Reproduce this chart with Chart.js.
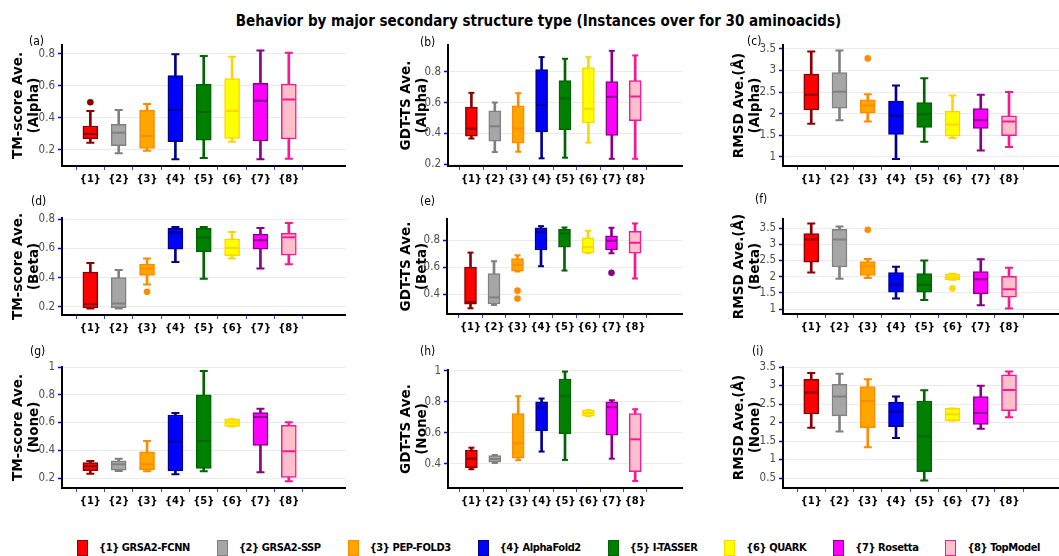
<!DOCTYPE html>
<html><head><meta charset="utf-8">
<script src="https://cdn.jsdelivr.net/npm/chart.js@4.4.0/dist/chart.umd.min.js"></script>
<style>
html,body{margin:0;padding:0;background:#fff;}
body{position:relative;width:1059px;height:556px;overflow:hidden;font-family:"DejaVu Sans",sans-serif;}
.panel{position:absolute;}
.lab{position:absolute;font:12px "DejaVu Sans Condensed","DejaVu Sans",sans-serif;color:#000;}
#title{position:absolute;left:0;width:1077px;top:12px;text-align:center;font:bold 15px "DejaVu Sans Condensed","DejaVu Sans",sans-serif;color:#000;}
#legend{position:absolute;left:77px;top:540px;display:flex;align-items:center;white-space:nowrap;}
.item{display:flex;align-items:center;margin-right:27px;}
.sq{width:9px;height:14px;border:1.5px solid #000;margin-right:11px;}
.lt{font:bold 11px "DejaVu Sans Condensed","DejaVu Sans",sans-serif;letter-spacing:-0.4px;color:#000;line-height:16px;}
</style></head><body>
<div id="title">Behavior by major secondary structure type (Instances over for 30 aminoacids)</div>
<div id="root"></div>
<div id="legend"></div>
<script>
// ---------- data ----------
const categories = ['{1}','{2}','{3}','{4}','{5}','{6}','{7}','{8}'];
const methods = ['GRSA2-FCNN','GRSA2-SSP','PEP-FOLD3','AlphaFold2','I-TASSER','QUARK','Rosetta','TopModel'];
// each row: [lower whisker, Q1, median, Q3, upper whisker]
const tmAlpha   = [[0.246,0.269,0.300,0.350,0.444],[0.179,0.227,0.308,0.360,0.450],[0.196,0.210,0.288,0.448,0.488],[0.142,0.252,0.450,0.665,0.798],[0.150,0.262,0.438,0.610,0.788],[0.252,0.273,0.444,0.646,0.783],[0.142,0.256,0.508,0.617,0.821],[0.146,0.269,0.515,0.612,0.808]];
const gdtAlpha  = [[0.366,0.381,0.431,0.571,0.664],[0.278,0.349,0.446,0.547,0.601],[0.280,0.336,0.431,0.580,0.662],[0.237,0.409,0.584,0.815,0.897],[0.241,0.424,0.627,0.744,0.886],[0.340,0.468,0.560,0.828,0.897],[0.234,0.386,0.638,0.737,0.938],[0.234,0.483,0.640,0.744,0.908]];
const rmsdAlpha = [[1.77,2.09,2.44,2.915,3.44],[1.85,2.13,2.51,2.95,3.46],[1.82,2.01,2.19,2.32,2.45],[0.95,1.52,1.95,2.29,2.65],[1.35,1.68,1.99,2.26,2.82],[1.44,1.48,1.75,2.06,2.42],[1.15,1.66,1.85,2.12,2.44],[1.23,1.49,1.82,1.95,2.50]];
const tmBeta    = [[0.189,0.193,0.218,0.438,0.500],[0.189,0.195,0.223,0.400,0.452],[0.353,0.415,0.461,0.493,0.530],[0.507,0.594,0.708,0.736,0.745],[0.392,0.576,0.674,0.736,0.745],[0.530,0.550,0.603,0.665,0.711],[0.463,0.594,0.656,0.697,0.738],[0.491,0.553,0.676,0.702,0.773]];
const gdtBeta   = [[0.294,0.324,0.341,0.599,0.707],[0.319,0.326,0.375,0.552,0.643],[0.567,0.569,0.616,0.663,0.687],[0.606,0.726,0.859,0.891,0.903],[0.574,0.748,0.849,0.879,0.893],[0.704,0.704,0.748,0.817,0.869],[0.702,0.726,0.795,0.832,0.891],[0.515,0.702,0.780,0.864,0.923]];
const rmsdBeta  = [[2.13,2.45,3.15,3.33,3.64],[1.94,2.30,3.15,3.46,3.55],[1.96,2.04,2.32,2.47,2.55],[1.33,1.52,1.75,2.13,2.31],[1.28,1.52,1.75,2.10,2.50],[1.91,1.91,1.98,2.07,2.09],[1.12,1.47,1.92,2.16,2.54],[1.02,1.37,1.61,2.01,2.28]];
const tmNone    = [[0.231,0.253,0.285,0.311,0.323],[0.251,0.256,0.299,0.323,0.338],[0.248,0.260,0.300,0.389,0.466],[0.227,0.251,0.461,0.654,0.669],[0.248,0.270,0.466,0.800,0.971],[0.572,0.572,0.600,0.623,0.623],[0.241,0.434,0.640,0.671,0.700],[0.176,0.205,0.393,0.579,0.601]];
const gdtNone   = [[0.366,0.376,0.434,0.490,0.505],[0.406,0.411,0.432,0.454,0.458],[0.424,0.437,0.533,0.725,0.837],[0.480,0.613,0.766,0.800,0.822],[0.426,0.596,0.837,0.948,0.996],[0.708,0.708,0.728,0.748,0.748],[0.434,0.585,0.766,0.800,0.811],[0.290,0.351,0.559,0.725,0.753]];
const rmsdNone  = [[1.86,2.23,2.81,3.17,3.34],[1.76,2.18,2.70,3.03,3.32],[1.33,1.86,2.58,2.97,3.17],[1.58,1.89,2.30,2.55,2.70],[0.43,0.67,1.63,2.58,2.87],[2.05,2.05,2.22,2.38,2.38],[1.83,1.95,2.26,2.70,2.99],[2.14,2.32,2.88,3.29,3.38]];
// outliers: [category number, value]
const tmAlphaOut   = [[1,0.498]];
const gdtAlphaOut  = [];
const rmsdAlphaOut = [[3,3.28]];
const tmBetaOut    = [[3,0.303]];
const gdtBetaOut   = [[3,0.425],[3,0.366],[7,0.557]];
const rmsdBetaOut  = [[3,3.45],[6,1.64]];
const tmNoneOut = [], gdtNoneOut = [], rmsdNoneOut = [];
// tick labels
const tmTicks   = [0.2,0.4,0.6,0.8];
const gdtAlphaTicks = [0.2,0.4,0.6,0.8];
const gdtBetaTicks  = [0.4,0.6,0.8];
const rmsdTicks = [1,1.5,2,2.5,3,3.5];
const noneTicks = [0.2,0.4,0.6,0.8,1];
const gdtNoneTicks = [0.4,0.6,0.8,1];
const rmsdNoneTicks = [0.5,1,1.5,2,2.5,3,3.5];

// ---------- styles ----------
const fills   = ['#FF0000','#A6A6A6','#FFA500','#0000FF','#008000','#FFFF00','#FF00FF','#FFC0CB'];
const borders = ['#8B0000','#808080','#FF8C00','#00008B','#006400','#FFD700','#8B008B','#FF1493'];
const CF = '"DejaVu Sans Condensed","DejaVu Sans",sans-serif';

const panels = [
 {lab:'(a)',lx:29,ly:34, rows:tmAlpha,  out:tmAlphaOut,  ticks:tmTicks,  min:0.10, max:0.856, title:['TM-score Ave.','(Alpha)'], cl:8,   a:{l:62, r:348, t:45, b:166}, bw:15, cw:8},
 {lab:'(b)',lx:420,ly:35, rows:gdtAlpha, out:gdtAlphaOut, ticks:gdtAlphaTicks, min:0.187, max:0.976, title:['GDT-TS Ave.','(Alpha)'], cl:396, a:{l:448, r:683, t:45, b:166}, bw:12, cw:6},
 {lab:'(c)',lx:747,ly:34, rows:rmsdAlpha,out:rmsdAlphaOut,ticks:rmsdTicks,min:0.79, max:3.59, title:['RMSD Ave.(Å)','(Alpha)'], cl:729, a:{l:783, r:1068, t:45, b:166}, bw:15, cw:8},
 {lab:'(d)',lx:31,ly:194, rows:tmBeta,   out:tmBetaOut,   ticks:tmTicks,  min:0.145, max:0.807, title:['TM-score Ave.','(Beta)'], cl:8,   a:{l:62, r:348, t:218, b:315}, bw:15, cw:8},
 {lab:'(e)',lx:420,ly:194, rows:gdtBeta,  out:gdtBetaOut,  ticks:gdtBetaTicks, min:0.252, max:0.956, title:['GDT-TS Ave.','(Beta)'], cl:396, a:{l:447, r:683, t:219, b:314}, bw:12, cw:6},
 {lab:'(f)',lx:755,ly:192, rows:rmsdBeta, out:rmsdBetaOut, ticks:rmsdTicks,min:0.85, max:3.78, title:['RMSD Ave.(Å)','(Beta)'], cl:729, a:{l:783, r:1068, t:219, b:314}, bw:15, cw:8},
 {lab:'(g)',lx:30,ly:344, rows:tmNone,   out:tmNoneOut,   ticks:noneTicks, min:0.128, max:1.0, title:['TM-score Ave.','(None)'], cl:8,   a:{l:62, r:348, t:367, b:488}, bw:15, cw:8},
 {lab:'(h)',lx:420,ly:344, rows:gdtNone,  out:gdtNoneOut,  ticks:gdtNoneTicks, min:0.245, max:1.006, title:['GDT-TS Ave.','(None)'], cl:396, a:{l:448, r:683, t:370, b:488}, bw:12, cw:6},
 {lab:'(i)',lx:752,ly:344, rows:rmsdNone, out:rmsdNoneOut, ticks:rmsdNoneTicks, min:0.23, max:3.5, title:['RMSD Ave.(Å)','(None)'], cl:729, a:{l:783, r:1068, t:367, b:488}, bw:15, cw:8}
];

const root = document.getElementById('root');
const PADT = 10, PADR = 6, XH = 24;

panels.forEach(p => {
  const left = p.cl, top = p.a.t - PADT;
  const w = p.a.r - left + PADR, h = p.a.b - top + XH;
  const div = document.createElement('div');
  div.className = 'panel';
  div.style.left = left + 'px'; div.style.top = top + 'px';
  div.style.width = w + 'px'; div.style.height = h + 'px';
  const cv = document.createElement('canvas');
  cv.width = w; cv.height = h;
  cv.style.width = w + 'px'; cv.style.height = h + 'px';
  div.appendChild(cv); root.appendChild(div);
  const lab = document.createElement('div');
  lab.className = 'lab'; lab.textContent = p.lab;
  lab.style.left = p.lx + 'px'; lab.style.top = p.ly + 'px';
  root.appendChild(lab);

  const yw = p.a.l - left;
  const capPts = [], capCols = [];
  p.rows.forEach((r, i) => {
    capPts.push({x:i+1, y:r[0]}); capCols.push(borders[i]);
    capPts.push({x:i+1, y:r[4]}); capCols.push(borders[i]);
  });
  const outPts = p.out.map(o => ({x:o[0], y:o[1]}));
  const outCols = p.out.map(o => borders[o[0]-1]);

  new Chart(cv, {
    type: 'bar',
    data: {
      datasets: [
        {type:'bar', label:'whisker', data:p.rows.map((r,i)=>({x:i+1, y:[r[0], r[4]]})),
         backgroundColor:borders, borderWidth:0, barThickness:2, grouped:false, order:4},
        {type:'bar', label:'box', data:p.rows.map((r,i)=>({x:i+1, y:[r[1], r[3]]})),
         backgroundColor:fills, borderColor:borders, borderWidth:1.5, borderSkipped:false,
         barThickness:p.bw, grouped:false, order:3},
        {type:'line', label:'caps', data:capPts, showLine:false, pointStyle:'line',
         pointRadius:p.cw/2, pointBorderColor:capCols, pointBorderWidth:2, order:2},
        {type:'line', label:'median', data:p.rows.map((r,i)=>({x:i+1, y:r[2]})), showLine:false,
         pointStyle:'line', pointRadius:p.bw/2 - 1, pointBorderColor:borders, pointBorderWidth:2, order:1},
        {type:'line', label:'outliers', data:outPts, showLine:false, pointStyle:'circle',
         pointRadius:3.3, pointBackgroundColor:outCols, pointBorderColor:outCols, pointBorderWidth:0, order:1}
      ]
    },
    options: {
      responsive:false, animation:false, events:[],
      layout:{padding:{top:PADT, right:PADR, left:0, bottom:0}},
      plugins:{legend:{display:false}, tooltip:{enabled:false}, title:{display:false}},
      scales:{
        x:{type:'linear', min:0, max:10, offset:false,
           afterBuildTicks:s=>{ s.ticks = categories.map((c,i)=>({value:i+1})); },
           afterFit:s=>{ s.height = XH; },
           ticks:{callback:(v)=>categories[v-1], autoSkip:false, maxRotation:0, padding:3,
                  color:'#000', font:{family:CF, size:11, weight:'bold'}},
           grid:{drawOnChartArea:false, tickLength:4, tickColor:'#3344FF', tickWidth:1},
           border:{display:true, color:'#000', width:2}},
        y:{type:'linear', min:p.min, max:p.max,
           afterBuildTicks:s=>{ s.ticks = p.ticks.map(v=>({value:v})); },
           afterFit:s=>{ s.width = yw; },
           ticks:{callback:(v)=>String(v), padding:3, color:'#4D4D4D', font:{family:CF, size:11.5}},
           grid:{color:'#EBEBEB', lineWidth:1, tickLength:4, tickColor:'#0000FF', tickWidth:1.5},
           border:{display:true, color:'#000', width:2},
           title:{display:true, text:p.title, color:'#000', padding:{top:3, bottom:0},
                  font:{family:'"DejaVu Sans",sans-serif', size:13.5, weight:'bold', lineHeight:1.15}}}
      }
    }
  });
});

// legend
const legend = document.getElementById('legend');
categories.forEach((c, i) => {
  const it = document.createElement('div');
  it.className = 'item';
  const s = document.createElement('div');
  s.className = 'sq';
  s.style.background = fills[i]; s.style.borderColor = borders[i];
  const t = document.createElement('div');
  t.className = 'lt';
  t.textContent = c + ' ' + methods[i];
  it.appendChild(s); it.appendChild(t);
  legend.appendChild(it);
});
</script>
</body></html>
